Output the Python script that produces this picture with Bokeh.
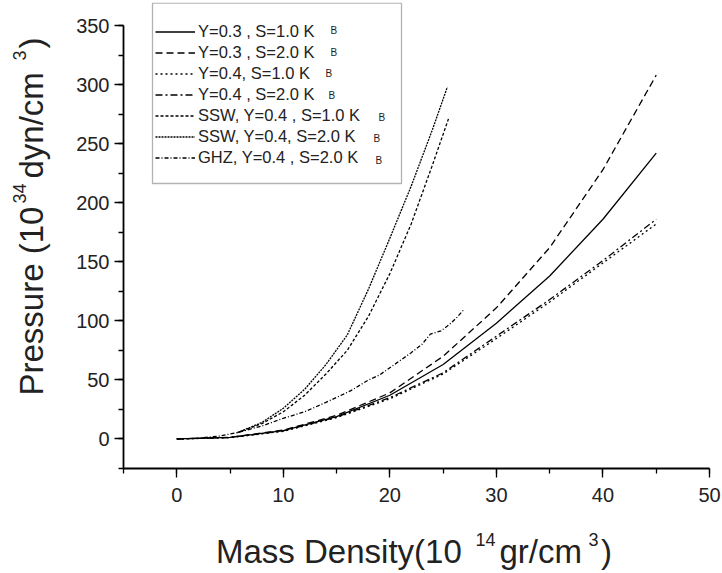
import math
from bokeh.plotting import figure
from bokeh.layouts import row, column
from bokeh.models import (Legend, LegendItem, Label, BoxAnnotation,
                          SingleIntervalTicker, Range1d)
from bokeh.embed import file_html
from bokeh.resources import INLINE

# ---- data ----
x_main = [0, 5, 10, 15, 20, 25, 30, 35, 40, 45]
p_y03_s1 = [0, 1.3, 7, 19, 37, 63, 98, 138, 186, 242]
p_y03_s2 = [0, 1.4, 7.5, 20, 39, 70, 111, 162, 228, 308]
p_y04_s1 = [0, 1.1, 6.5, 18, 34, 55, 85, 116, 149, 182]
p_y04_s2 = [0, 1.2, 6.8, 18.5, 35, 56, 87, 118, 151, 186]

x_ssw_s1 = [5.7, 8, 10, 12, 14, 16, 18, 20, 22, 24, 25.5]
p_ssw_s1 = [5.4, 13, 23, 37, 55, 75, 104, 140, 182, 232, 271]
x_ssw_s2 = [5.7, 8, 10, 12, 14, 16, 18, 20, 22, 24, 25.4]
p_ssw_s2 = [5.4, 14, 26, 42, 63, 88, 127, 170, 214, 262, 298]

x_ghz = [0, 2, 4, 5.7, 8, 10, 12, 14, 16.3, 18, 19, 20.9, 22, 23, 23.8, 24.8, 25.6, 26.3, 27]
p_ghz = [0, 0.6, 2.5, 5.4, 11, 17.5, 23, 31, 40.7, 50, 54, 66, 73, 80, 88.7, 91.5, 97, 103, 110]

labels = ["Y=0.3 , S=1.0 K", "Y=0.3 , S=2.0 K", "Y=0.4, S=1.0 K", "Y=0.4 , S=2.0 K",
          "SSW, Y=0.4 , S=1.0 K", "SSW, Y=0.4, S=2.0 K", "GHZ, Y=0.4 , S=2.0 K"]
dashes = ["solid", "7 4", "2 3", "7 3 2 3", "3 2", "2 1", "4 2 1 2"]

FONT = "Liberation Sans"
TXT = "#222222"
MID = 0.35  # baseline lies this many font-sizes below the text middle

# ---- main plot ----
p = figure(width=662, height=510, output_backend="svg", toolbar_location=None,
           x_range=Range1d(-5, 50), y_range=Range1d(-25, 369.5),
           min_border_left=63, min_border_right=13, min_border_top=2,
           min_border_bottom=42)
p.xgrid.visible = False
p.ygrid.visible = False
p.outline_line_color = None

p.xaxis.ticker = SingleIntervalTicker(interval=10, num_minor_ticks=2)
p.yaxis.ticker = SingleIntervalTicker(interval=50, num_minor_ticks=2)
p.xaxis.bounds = (-5, 50)
p.yaxis.bounds = (-25, 350)
for ax in p.xaxis + p.yaxis:
    ax.axis_line_color = "black"
    ax.axis_line_width = 1.8
    ax.major_tick_line_color = "black"
    ax.minor_tick_line_color = "black"
    ax.major_tick_line_width = 1.3
    ax.minor_tick_line_width = 1.3
    ax.major_tick_out = 9
    ax.major_tick_in = 0
    ax.minor_tick_out = 5
    ax.minor_tick_in = 0
    ax.major_label_text_font = FONT
    ax.major_label_text_font_size = "20px"
    ax.major_label_text_color = TXT
p.xaxis.major_label_standoff = 10
p.yaxis.major_label_standoff = 5

series = [(x_main, p_y03_s1), (x_main, p_y03_s2), (x_main, p_y04_s1), (x_main, p_y04_s2),
          (x_ssw_s1, p_ssw_s1), (x_ssw_s2, p_ssw_s2), (x_ghz, p_ghz)]
items = []
for (xs, ys), lab, d in zip(series, labels, dashes):
    r = p.line(xs, ys, line_color="black", line_width=1.3, line_dash=d)
    items.append(LegendItem(label=lab, renderers=[r]))

FL, FB = 123, 468  # page position of frame left / bottom
ROW0, PITCH = 27.7, 21.6  # legend row centres (page y) and measured row pitch
legend = Legend(items=items, location=(32, FB - (ROW0 - PITCH / 2 + 7 * PITCH)),
                padding=0, margin=0, spacing=0,
                glyph_width=40, glyph_height=21, label_height=21, label_standoff=3,
                label_text_font=FONT, label_text_font_size="16.5px",
                label_text_line_height=1.0, label_text_color=TXT,
                border_line_alpha=0, background_fill_alpha=0)
p.add_layout(legend)

p.add_layout(BoxAnnotation(left=152 - FL, right=401 - FL, top=FB - 2.7, bottom=FB - 183,
                           left_units="screen", right_units="screen",
                           top_units="screen", bottom_units="screen",
                           fill_alpha=0, line_color="black", line_width=1.3))

# subscript B's in legend
b_x = [330, 330, 325, 328, 378, 373, 375]
for i, bx in enumerate(b_x):
    mid = ROW0 + PITCH * i + 2.5
    p.add_layout(Label(x=bx - FL, y=FB - mid, x_units="screen", y_units="screen",
                       text="B", text_font=FONT, text_font_size="10px",
                       text_color=TXT, text_baseline="middle"))


def blank(w, h, **kw):
    f = figure(width=w, height=h, output_backend="svg", toolbar_location=None,
               x_range=Range1d(0, 1), y_range=Range1d(0, 1),
               x_axis_location=None, y_axis_location=None, **kw)
    f.grid.visible = False
    f.outline_line_color = None
    return f


def piece(f, txt, sx, sy, size, angle=0):
    f.add_layout(Label(x=sx, y=sy, x_units="screen", y_units="screen", text=txt,
                       text_font=FONT, text_font_size=f"{size}px", text_color=TXT,
                       text_baseline="middle", text_align="left", angle=angle))


# ---- y axis label: Pressure (10^34 dyn/cm^3) ----  (frame bottom at page 468)
yf = blank(60, 510, min_border_left=0, min_border_right=0, min_border_top=2,
           min_border_bottom=42)
a = math.pi / 2
ypieces = [("Pressure (10", 42.7, 395, 33), ("34", 25, 203, 18),
           ("dyn/cm", 42.7, 178, 33), ("3", 25, 60, 18), (")", 42.7, 48, 33)]
for txt, bx, start, size in ypieces:
    piece(yf, txt, bx - MID * size, FB - start, size, a)

# ---- x axis label: Mass Density(10^14 gr/cm^3) ----  (frame bottom at page 573)
xf = blank(722, 63, min_border=0)
XB = 573
xpieces = [("Mass Density(10", 215.5, 563, 33), ("14", 475, 545, 18),
           ("gr/cm", 499, 563, 33), ("3", 588, 545, 18), (")", 600.5, 563, 33)]
for txt, sx, base, size in xpieces:
    piece(xf, txt, sx, XB - (base - MID * size), size)

layout = column(row(yf, p), xf)
open("out.html", "w").write(file_html(layout, INLINE))
